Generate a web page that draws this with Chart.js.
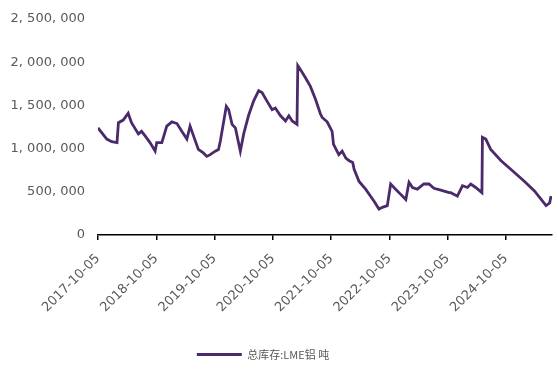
<!DOCTYPE html>
<html>
<head>
<meta charset="utf-8">
<script src="https://cdn.jsdelivr.net/npm/chart.js@4.4.1/dist/chart.umd.min.js"></script>
<style>
  html, body { margin: 0; padding: 0; background: #fff; }
  #wrap { width: 558px; height: 372px; }
</style>
</head>
<body>
<div id="wrap"><canvas id="stock"></canvas></div>
<script>
// LME aluminium total stocks, tonnes
const seriesName = '总库存:LME铝 吨'
const startDate = '2017-10-05'
const endDate = '2025-07-20'
const tickYears = [2017, 2018, 2019, 2020, 2021, 2022, 2023, 2024]

const dates = [
  '2017-10-05', '2017-11-29', '2017-12-30', '2018-02-01', '2018-02-10', '2018-03-12',
  '2018-04-12', '2018-05-03', '2018-06-15', '2018-07-05', '2018-07-26', '2018-08-27',
  '2018-09-28', '2018-10-08', '2018-11-09', '2018-12-10', '2019-01-11', '2019-02-12',
  '2019-03-14', '2019-04-15', '2019-05-05', '2019-05-26', '2019-06-26', '2019-07-27',
  '2019-08-18', '2019-09-08', '2019-10-10', '2019-10-30', '2019-11-11', '2019-12-18',
  '2020-01-02', '2020-01-23', '2020-02-13', '2020-03-15', '2020-04-05', '2020-05-05',
  '2020-06-06', '2020-07-08', '2020-07-29', '2020-08-29', '2020-09-30', '2020-10-20',
  '2020-11-22', '2020-12-23', '2021-01-13', '2021-02-03', '2021-03-05', '2021-03-10',
  '2021-03-31', '2021-04-27', '2021-05-28', '2021-06-29', '2021-07-30', '2021-08-10',
  '2021-09-10', '2021-10-11', '2021-10-20', '2021-11-22', '2021-12-13', '2022-01-05',
  '2022-01-26', '2022-02-17', '2022-02-26', '2022-03-29', '2022-05-09', '2022-07-01',
  '2022-08-01', '2022-08-22', '2022-09-22', '2022-10-13', '2022-11-13', '2022-12-15',
  '2023-01-16', '2023-02-05', '2023-02-27', '2023-03-29', '2023-05-09', '2023-06-10',
  '2023-07-11', '2023-08-23', '2023-10-14', '2023-10-25', '2023-12-05', '2024-01-06',
  '2024-02-06', '2024-02-27', '2024-03-29', '2024-05-07', '2024-05-10', '2024-05-31',
  '2024-07-01', '2024-09-04', '2024-11-16', '2025-01-29', '2025-04-01', '2025-05-23',
  '2025-06-13', '2025-07-05', '2025-07-14'
]

const stocks = [
  1240000, 1110000, 1080000, 1070000, 1300000, 1330000,
  1410000, 1300000, 1170000, 1200000, 1150000, 1070000,
  970000, 1070000, 1070000, 1260000, 1310000, 1290000,
  1200000, 1110000, 1260000, 1150000, 990000, 950000,
  910000, 930000, 970000, 990000, 1090000, 1490000,
  1450000, 1280000, 1240000, 970000, 1170000, 1380000,
  1550000, 1670000, 1650000, 1550000, 1450000, 1470000,
  1380000, 1320000, 1380000, 1320000, 1280000, 1960000,
  1900000, 1820000, 1720000, 1570000, 1400000, 1360000,
  1310000, 1200000, 1050000, 930000, 970000, 890000,
  860000, 840000, 760000, 620000, 530000, 390000,
  300000, 320000, 340000, 590000, 530000, 470000,
  410000, 610000, 550000, 530000, 590000, 590000,
  540000, 520000, 490000, 490000, 450000, 570000,
  550000, 590000, 550000, 490000, 1130000, 1110000,
  990000, 860000, 740000, 620000, 510000, 390000,
  340000, 370000, 450000
]

const yearSpan = d => (Date.parse(d) - Date.parse(startDate)) / (365.25 * 864e5)
const points = dates.map((d, i) => ({x: yearSpan(d), y: stocks[i]}))

const lineColor = '#4b2a6b'
const textColor = '#595959'

// nudge the legend a little left of centre, as in the source picture
const legendShift = {
  id: 'legendShift',
  afterLayout: chart => {
    chart.legend.left -= 13
    chart.legend.right -= 13
  },
}

const ctx = document.getElementById('stock').getContext('2d')
new Chart(ctx, {
  type: 'line',
  data: {
    datasets: [{
      label: seriesName,
      data: points,
      borderColor: lineColor,
      backgroundColor: lineColor,
      borderWidth: 2.8,
      pointRadius: 0,
      tension: 0,
    }],
  },
  options: {
    responsive: true,
    maintainAspectRatio: false,
    animation: false,
    layout: {padding: {top: 19, right: 6, left: 0, bottom: 2}},
    plugins: {
      tooltip: {enabled: false},
      legend: {
        position: 'bottom',
        labels: {
          color: textColor,
          font: {family: '"Noto Sans CJK SC", sans-serif', size: 11},
          boxWidth: 45,
          boxHeight: 3,
          padding: 8,
          generateLabels: chart => Chart.defaults.plugins.legend.labels.generateLabels(chart)
            .map(item => ({...item, lineWidth: 0})),
        },
      },
    },
    scales: {
      x: {
        type: 'linear',
        min: 0,
        max: yearSpan(endDate),
        afterFit: scale => { scale.height = 106 },
        border: {display: true, color: '#000', width: 1.5},
        grid: {display: true, drawOnChartArea: false, drawTicks: true, tickLength: 5, color: '#000', lineWidth: 1.5},
        ticks: {
          stepSize: 1,
          includeBounds: false,
          autoSkip: false,
          maxRotation: 45,
          minRotation: 45,
          padding: 11,
          color: textColor,
          font: {family: '"DejaVu Sans", sans-serif', size: 13},
          callback: v => tickYears[Math.round(v)] + '-10-05',
        },
      },
      y: {
        min: 0,
        max: 2500000,
        afterFit: scale => { scale.width = 98 },
        border: {display: false},
        grid: {display: false},
        ticks: {
          stepSize: 500000,
          padding: 5,
          color: textColor,
          font: {family: '"DejaVu Sans", sans-serif', size: 13},
          callback: v => v.toLocaleString('en-US').replace(/,/g, ', '),
        },
      },
    },
  },
  plugins: [legendShift],
})
</script>
</body>
</html>
